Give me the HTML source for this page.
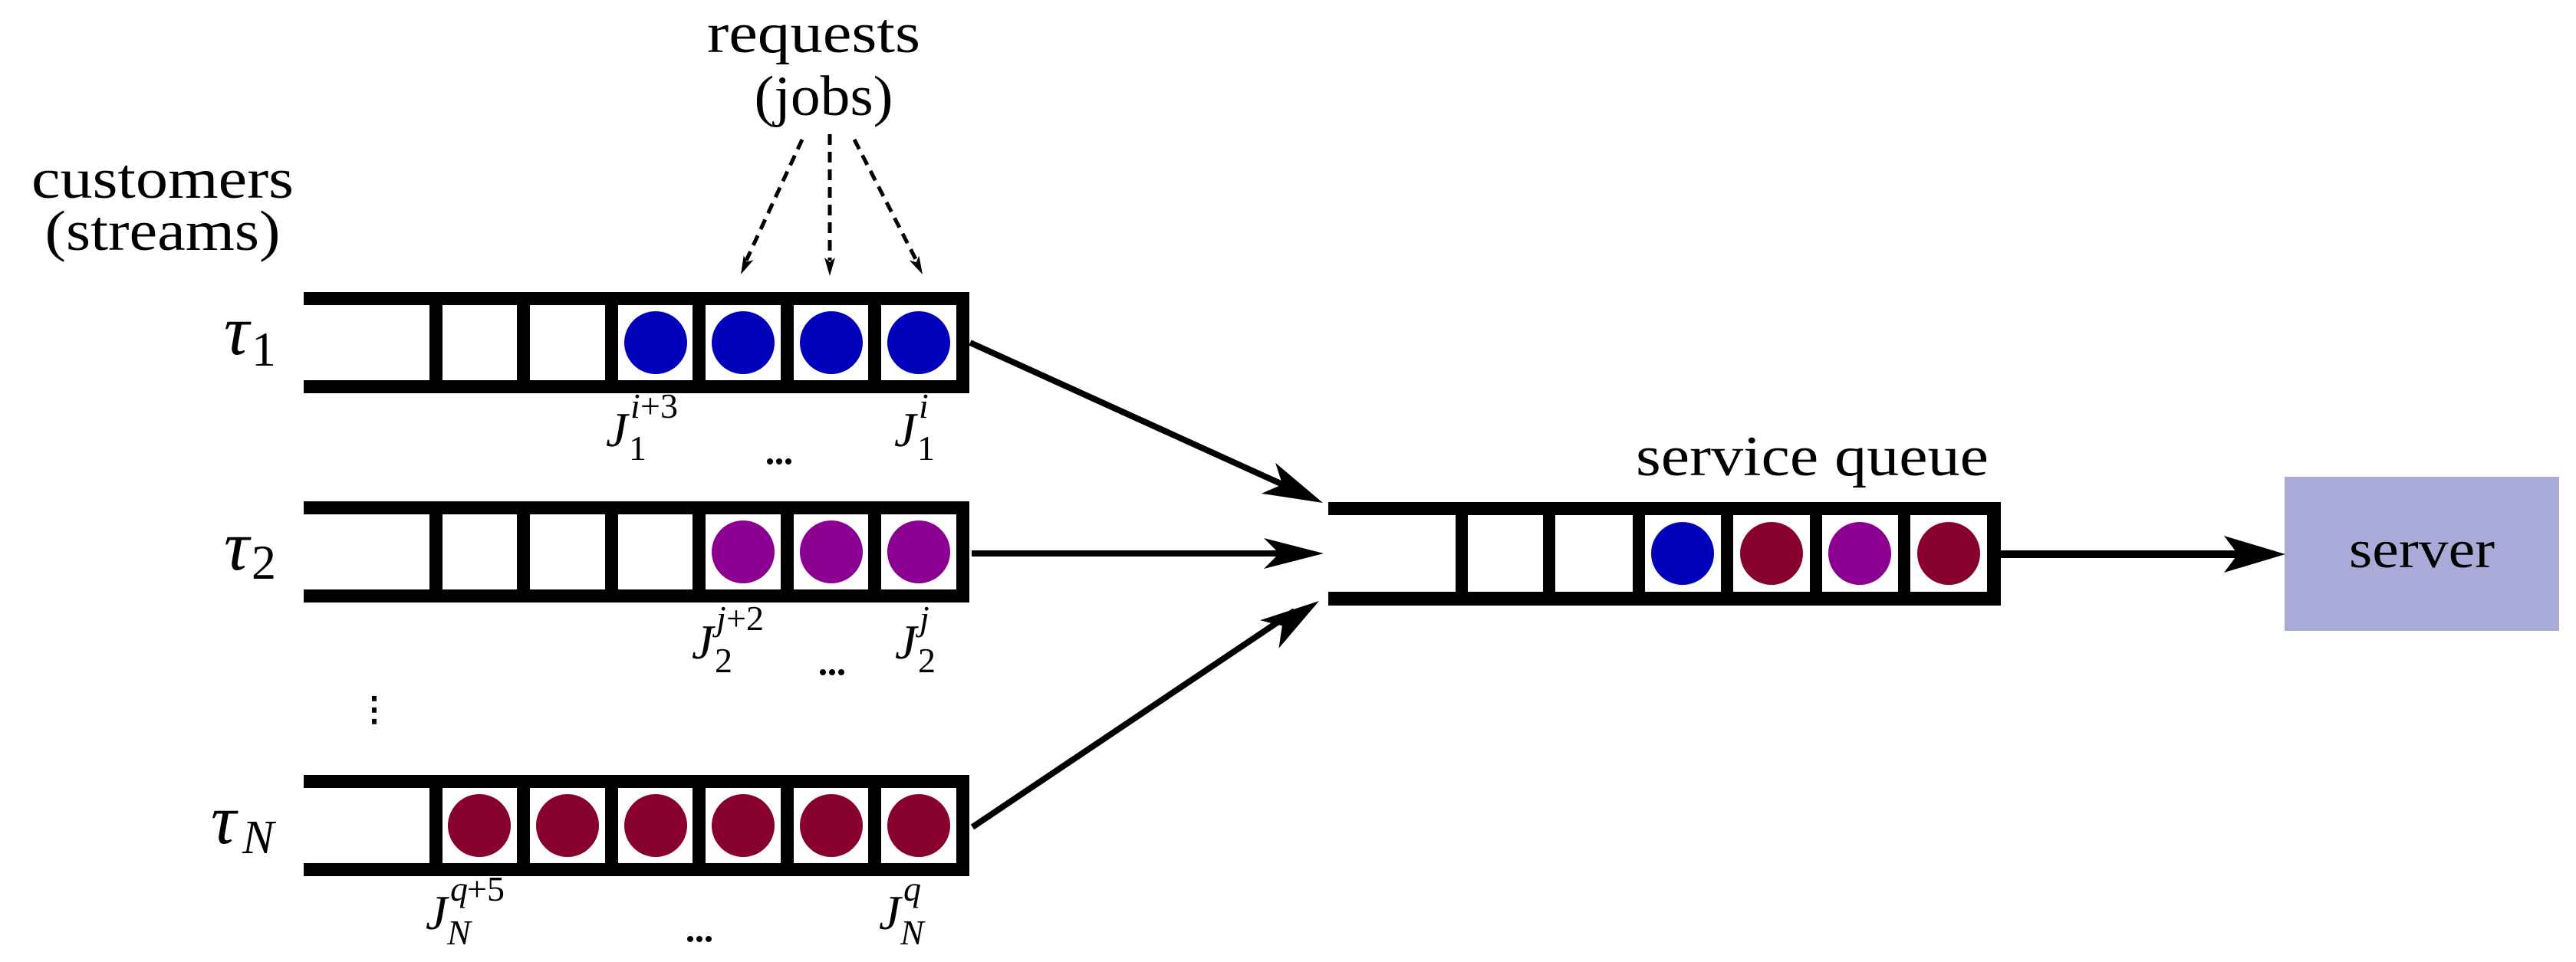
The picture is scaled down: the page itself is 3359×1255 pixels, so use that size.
<!DOCTYPE html>
<html><head><meta charset="utf-8"><style>
html,body{margin:0;padding:0;background:#fff;}
svg{display:block;}
text{font-family:"Liberation Serif","Times New Roman",serif;fill:#000;}
</style></head><body>
<svg width="3359" height="1255" viewBox="0 0 3359 1255" xmlns="http://www.w3.org/2000/svg" font-family="Liberation Serif, serif">
<defs>
<g id="q6">
  <rect x="396" y="0" width="868" height="17"/>
  <rect x="396" y="115" width="868" height="17"/>
  <rect x="560" y="0" width="17" height="132"/>
  <rect x="674" y="0" width="17" height="132"/>
  <rect x="789" y="0" width="17" height="132"/>
  <rect x="903" y="0" width="17" height="132"/>
  <rect x="1018" y="0" width="17" height="132"/>
  <rect x="1132" y="0" width="17" height="132"/>
  <rect x="1247" y="0" width="17" height="132"/>
</g>
</defs>

<use href="#q6" transform="translate(0,381)"/>
<g fill="#0000bb">
<circle cx="855" cy="447" r="41"/><circle cx="969" cy="447" r="41"/><circle cx="1084" cy="447" r="41"/><circle cx="1198" cy="447" r="41"/>
</g>
<use href="#q6" transform="translate(0,654)"/>
<g fill="#8b0090">
<circle cx="969" cy="720" r="41"/><circle cx="1084" cy="720" r="41"/><circle cx="1198" cy="720" r="41"/>
</g>
<use href="#q6" transform="translate(0,1011)"/>
<g fill="#88002f">
<circle cx="625" cy="1077" r="41"/><circle cx="740" cy="1077" r="41"/><circle cx="855" cy="1077" r="41"/><circle cx="969" cy="1077" r="41"/><circle cx="1084" cy="1077" r="41"/><circle cx="1198" cy="1077" r="41"/>
</g>

<rect x="1732" y="655" width="877" height="17"/>
<rect x="1732" y="772" width="877" height="18"/>
<rect x="1898" y="655" width="16" height="135"/>
<rect x="2012" y="655" width="16" height="135"/>
<rect x="2129" y="655" width="16" height="135"/>
<rect x="2244" y="655" width="16" height="135"/>
<rect x="2360" y="655" width="16" height="135"/>
<rect x="2475" y="655" width="16" height="135"/>
<rect x="2591" y="655" width="18" height="135"/>
<circle cx="2194" cy="722" r="41" fill="#0000bb"/>
<circle cx="2310" cy="722" r="41" fill="#88002f"/>
<circle cx="2425" cy="722" r="41" fill="#8b0090"/>
<circle cx="2541" cy="722" r="41" fill="#88002f"/>

<rect x="2979" y="622" width="358" height="201" fill="#aaaad9"/>
<text x="3158" y="740" font-size="70" text-anchor="middle" textLength="190" lengthAdjust="spacingAndGlyphs">server</text>

<g stroke="#000" stroke-width="8" fill="none">
<line x1="1265" y1="447" x2="1690" y2="640"/>
<line x1="1267" y1="722" x2="1690" y2="722"/>
<line x1="1268" y1="1079" x2="1688" y2="797"/>
<line x1="2609" y1="723" x2="2940" y2="723" stroke-width="10"/>
</g>
<g fill="#000">
<path d="M0,0 L-78,-22 L-58,0 L-78,22 Z" transform="translate(1725,656) rotate(24.4)"/>
<path d="M0,0 L-78,-20 L-58,0 L-78,20 Z" transform="translate(1726,722)"/>
<path d="M0,0 L-78,-22 L-58,0 L-78,22 Z" transform="translate(1720,784) rotate(-33.9)"/>
<path d="M0,0 L-80,-24 L-62,0 L-80,24 Z" transform="translate(2980,723)"/>
</g>

<g stroke="#000" stroke-width="5" stroke-dasharray="14,9" fill="none">
<line x1="1046" y1="182" x2="973" y2="340"/>
<line x1="1082" y1="175" x2="1082" y2="340"/>
<line x1="1114" y1="182" x2="1195" y2="340"/>
</g>
<g fill="#000">
<path d="M0,0 L-24,-7 L-18,0 L-24,7 Z" transform="translate(966,358) rotate(115)"/>
<path d="M0,0 L-24,-7 L-18,0 L-24,7 Z" transform="translate(1082,360) rotate(90)"/>
<path d="M0,0 L-24,-7 L-18,0 L-24,7 Z" transform="translate(1203,358) rotate(63)"/>
</g>

<text x="1061" y="68" font-size="74" text-anchor="middle" textLength="278" lengthAdjust="spacingAndGlyphs">requests</text>
<text x="1074" y="150" font-size="74" text-anchor="middle" textLength="181" lengthAdjust="spacingAndGlyphs">(jobs)</text>
<text x="212" y="258" font-size="74" text-anchor="middle" textLength="342" lengthAdjust="spacingAndGlyphs">customers</text>
<text x="212" y="326" font-size="74" text-anchor="middle" textLength="307" lengthAdjust="spacingAndGlyphs">(streams)</text>
<text x="2363" y="620" font-size="74" text-anchor="middle" textLength="460" lengthAdjust="spacingAndGlyphs">service queue</text>

<text x="292" y="462" font-size="92" font-style="italic">τ</text>
<text x="328" y="477" font-size="64">1</text>
<text x="292" y="743" font-size="92" font-style="italic">τ</text>
<text x="328" y="755" font-size="64">2</text>
<text x="275" y="1100" font-size="92" font-style="italic">τ</text>
<text x="316" y="1113" font-size="62" font-style="italic">N</text>

<text x="466" y="940" font-size="44" font-weight="bold">⋮</text>

<g font-style="italic">
<text x="790" y="582" font-size="64">J</text>
<text x="822" y="545" font-size="46">i</text>
<text x="835" y="545" font-size="46" font-style="normal">+3</text>
<text x="820" y="600" font-size="46" font-style="normal">1</text>
<text x="1166" y="582" font-size="64">J</text>
<text x="1198" y="545" font-size="46">i</text>
<text x="1196" y="600" font-size="46" font-style="normal">1</text>

<text x="902" y="859" font-size="64">J</text>
<text x="934" y="822" font-size="46">j</text>
<text x="947" y="822" font-size="46" font-style="normal">+2</text>
<text x="932" y="877" font-size="46" font-style="normal">2</text>
<text x="1167" y="859" font-size="64">J</text>
<text x="1199" y="822" font-size="46">j</text>
<text x="1197" y="877" font-size="46" font-style="normal">2</text>

<text x="555" y="1212" font-size="64">J</text>
<text x="587" y="1175" font-size="46">q</text>
<text x="609" y="1175" font-size="46" font-style="normal">+5</text>
<text x="583" y="1232" font-size="46">N</text>
<text x="1146" y="1212" font-size="64">J</text>
<text x="1178" y="1175" font-size="46">q</text>
<text x="1174" y="1232" font-size="46">N</text>
</g>
<g fill="#000">
<circle cx="1004" cy="602" r="4"/><circle cx="1016" cy="602" r="4"/><circle cx="1028" cy="602" r="4"/>
<circle cx="1073" cy="877" r="4"/><circle cx="1085" cy="877" r="4"/><circle cx="1097" cy="877" r="4"/>
<circle cx="900" cy="1225" r="4"/><circle cx="912" cy="1225" r="4"/><circle cx="924" cy="1225" r="4"/>
</g>
</svg>
</body></html>
